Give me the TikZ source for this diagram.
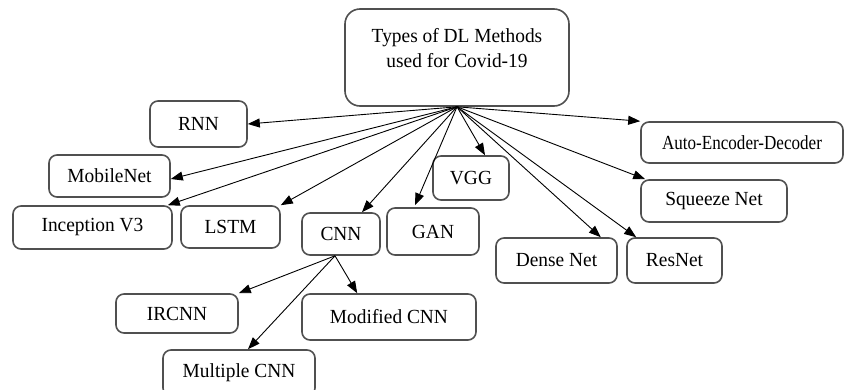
\documentclass[tikz,border=0pt]{standalone}
\usepackage{fontspec}
\setmainfont{Liberation Serif}[FakeStretch=0.97]
\usetikzlibrary{arrows.meta}
\definecolor{boxgray}{HTML}{505050}
\begin{document}
\begin{tikzpicture}[x=1pt,y=-1pt,
  txt/.style={inner sep=0pt, font=\fontsize{20}{25}\selectfont, align=center},
  box/.style={txt, draw=boxgray, line width=1.6pt, rounded corners=8pt, fill=white},
  arr/.style={-{Triangle[length=12pt,width=9pt]}, line width=0.9pt}]
\useasboundingbox (0,0) rectangle (844,389);
\node[box, rounded corners=15pt, minimum width=224, minimum height=97] (root) at (457,57.5) {};
\node[txt] (roottxt) at (457,48.5) {Types of DL Methods\\used for Covid-19};
\node[box, minimum width=97, minimum height=46] (rnn) at (198.5,124) {RNN};
\node[box, minimum width=121, minimum height=42] (mob) at (109.5,176) {MobileNet};
\node[box, minimum width=159, minimum height=43] (incep) at (92.5,227.5) {Inception V3};
\node[box, minimum width=99, minimum height=42] (lstm) at (230.5,227) {LSTM};
\node[box, minimum width=78, minimum height=42] (cnn) at (341,234) {CNN};
\node[box, minimum width=92, minimum height=47] (gan) at (433,231.5) {GAN};
\node[box, minimum width=76, minimum height=44] (vgg) at (471,178) {VGG};
\node[box, minimum width=202, minimum height=41] (auto) at (742,142.5) {\scalebox{0.88}[1]{Auto-Encoder-Decoder}};
\node[box, minimum width=146, minimum height=42] (squeeze) at (714,201) {Squeeze Net};
\node[box, minimum width=121, minimum height=45] (dense) at (556.5,260.5) {Dense Net};
\node[box, minimum width=95, minimum height=45] (resnet) at (674.5,260.5) {ResNet};
\node[box, minimum width=122, minimum height=39] (ircnn) at (177,313.5) {IRCNN};
\node[box, minimum width=174, minimum height=46] (mod) at (389,317) {Modified CNN};
\node[box, minimum width=152, minimum height=46] (mult) at (239,373) {Multiple CNN};

\draw[arr] (root.south) -- (rnn.east);
\draw[arr] (root.south) -- ([yshift=-3pt]mob.east);
\draw[arr] (root.south) -- ([xshift=-5pt]incep.north east);
\draw[arr] (root.south) -- (lstm.north east);
\draw[arr] (root.south) -- ([xshift=21pt]cnn.north);
\draw[arr] (root.south) -- ([xshift=-18pt,yshift=2pt]gan.north);
\draw[arr] (root.south) -- ([xshift=14pt]vgg.north);
\draw[arr] (root.south) -- (auto.north west);
\draw[arr] (root.south) -- ([xshift=5pt]squeeze.north west);
\draw[arr] (root.south) -- ([xshift=-17pt]dense.north east);
\draw[arr] (root.south) -- ([xshift=10pt]resnet.north west);
\draw[arr] ([xshift=-6pt]cnn.south) -- (ircnn.north east);
\draw[arr] ([xshift=-6pt]cnn.south) -- ([xshift=56pt]mod.north west);
\draw[arr] ([xshift=-6pt]cnn.south) -- ([xshift=9pt]mult.north);
\end{tikzpicture}
\end{document}
